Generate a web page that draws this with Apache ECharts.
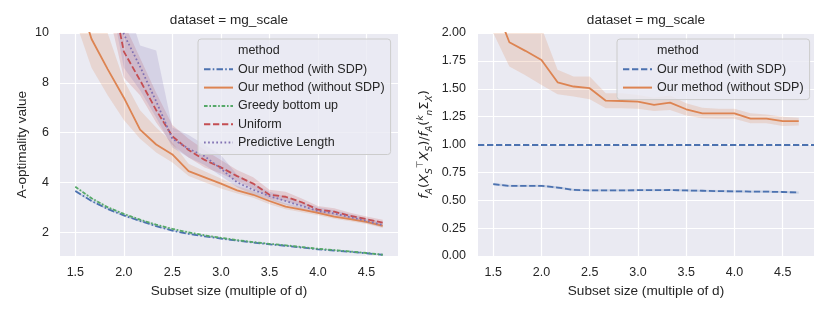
<!DOCTYPE html>
<html><head><meta charset="utf-8">
<script src="https://cdn.jsdelivr.net/npm/echarts@6/dist/echarts.min.js"></script>
<style>html,body{margin:0;padding:0;background:#fff}#c{width:831px;height:313px}</style>
</head><body><div id="c"></div>
<script>
// ---------- data ----------
const xVals = [1.5, 1.667, 1.833, 2.0, 2.167, 2.333, 2.5, 2.667, 2.833, 3.0, 3.167, 3.333, 3.5, 3.667, 3.833, 4.0, 4.167, 4.333, 4.5, 4.667];
const xTicks = [1.5, 2.0, 2.5, 3.0, 3.5, 4.0, 4.5];
const yTicksLeft = [2, 4, 6, 8, 10];
const methods = ['Our method (with SDP)', 'Our method (without SDP)', 'Greedy bottom up', 'Uniform', 'Predictive Length'];

// left panel: A-optimality value
const withSdpL   = [3.65, 3.25, 2.93, 2.67, 2.45, 2.24, 2.06, 1.93, 1.83, 1.74, 1.66, 1.58, 1.51, 1.45, 1.38, 1.31, 1.26, 1.21, 1.15, 1.09];
const withSdpLlo = [3.60, 3.21, 2.89, 2.63, 2.41, 2.21, 2.03, 1.90, 1.80, 1.71, 1.63, 1.56, 1.49, 1.43, 1.36, 1.29, 1.24, 1.19, 1.13, 1.07];
const withSdpLhi = [3.70, 3.29, 2.97, 2.71, 2.49, 2.27, 2.09, 1.96, 1.86, 1.77, 1.69, 1.60, 1.53, 1.47, 1.40, 1.33, 1.28, 1.23, 1.17, 1.11];
const noSdpL     = [11.8, 9.76, 8.55, 7.40, 6.12, 5.52, 5.12, 4.45, 4.20, 3.95, 3.68, 3.50, 3.25, 3.02, 2.90, 2.77, 2.62, 2.52, 2.41, 2.25];
const noSdpLlo   = [10.5, 8.60, 7.50, 6.50, 5.75, 5.20, 4.80, 4.25, 4.00, 3.75, 3.55, 3.38, 3.12, 2.92, 2.80, 2.68, 2.54, 2.44, 2.33, 2.17];
const noSdpLhi   = [13.5, 11.5, 10.0, 8.10, 6.90, 6.20, 5.60, 4.75, 4.45, 4.15, 3.85, 3.65, 3.38, 3.15, 3.00, 2.88, 2.72, 2.60, 2.50, 2.35];
const greedy     = [3.82, 3.36, 3.00, 2.73, 2.50, 2.30, 2.13, 1.99, 1.87, 1.77, 1.68, 1.60, 1.53, 1.47, 1.40, 1.33, 1.28, 1.22, 1.16, 1.09];
const greedyLo   = [3.78, 3.32, 2.96, 2.69, 2.46, 2.27, 2.10, 1.96, 1.84, 1.74, 1.66, 1.58, 1.51, 1.45, 1.38, 1.31, 1.26, 1.20, 1.14, 1.07];
const greedyHi   = [3.86, 3.40, 3.04, 2.77, 2.54, 2.33, 2.16, 2.02, 1.90, 1.80, 1.70, 1.62, 1.55, 1.49, 1.42, 1.35, 1.30, 1.24, 1.18, 1.11];
const uniform    = [17.0, 15.0, 12.5, 9.25, 8.10, 6.90, 5.85, 5.30, 4.90, 4.60, 4.25, 3.95, 3.50, 3.42, 3.20, 2.90, 2.82, 2.65, 2.52, 2.38];
const uniformLo  = [15.0, 13.0, 11.0, 8.20, 7.50, 6.40, 5.50, 5.00, 4.60, 4.35, 4.05, 3.75, 3.35, 3.25, 3.05, 2.78, 2.70, 2.55, 2.42, 2.28];
const uniformHi  = [19.0, 17.0, 14.0, 10.4, 9.00, 7.60, 6.30, 5.75, 5.30, 4.90, 4.50, 4.20, 3.70, 3.62, 3.35, 3.05, 2.96, 2.78, 2.63, 2.50];
const predLen    = [18.0, 16.0, 13.5, 9.95, 8.65, 7.25, 5.75, 5.35, 5.05, 4.55, 4.00, 3.70, 3.45, 3.25, 3.05, 2.85, 2.75, 2.60, 2.45, 2.28];
const predLenLo  = [16.0, 14.0, 12.0, 8.60, 7.70, 6.60, 5.40, 5.00, 4.70, 4.25, 3.80, 3.50, 3.30, 3.10, 2.92, 2.74, 2.63, 2.50, 2.36, 2.20];
const predLenHi  = [20.0, 18.0, 15.5, 11.5, 9.50, 9.30, 6.20, 5.90, 5.50, 5.10, 4.30, 3.95, 3.62, 3.42, 3.20, 3.00, 2.88, 2.72, 2.56, 2.40];

// right panel: ratio
const withSdpR   = [0.644, 0.629, 0.629, 0.629, 0.614, 0.593, 0.588, 0.588, 0.589, 0.590, 0.590, 0.592, 0.588, 0.585, 0.582, 0.580, 0.578, 0.577, 0.574, 0.569];
const withSdpRlo = [0.632, 0.618, 0.618, 0.618, 0.603, 0.582, 0.578, 0.578, 0.579, 0.580, 0.580, 0.582, 0.578, 0.575, 0.572, 0.570, 0.568, 0.567, 0.564, 0.559];
const withSdpRhi = [0.656, 0.640, 0.640, 0.640, 0.625, 0.604, 0.598, 0.598, 0.599, 0.600, 0.600, 0.602, 0.598, 0.595, 0.592, 0.590, 0.588, 0.587, 0.584, 0.579];
const noSdpR     = [2.29, 1.917, 1.84, 1.758, 1.558, 1.52, 1.505, 1.393, 1.39, 1.384, 1.355, 1.376, 1.316, 1.28, 1.28, 1.28, 1.232, 1.232, 1.209, 1.21];
const noSdpRlo   = [2.00, 1.70, 1.62, 1.534, 1.45, 1.43, 1.405, 1.325, 1.325, 1.32, 1.30, 1.31, 1.26, 1.235, 1.23, 1.23, 1.19, 1.19, 1.165, 1.17];
const noSdpRhi   = [2.80, 2.40, 2.30, 2.05, 1.67, 1.61, 1.61, 1.46, 1.46, 1.444, 1.42, 1.44, 1.37, 1.33, 1.32, 1.32, 1.28, 1.27, 1.25, 1.24];
const refLine = 1.0;

// ---------- styles ----------
const FONT = '"Liberation Sans", Arial, sans-serif';
const TXT = '#262626';
const COL = {blue:'#4C72B0', orange:'#DD8452', green:'#55A868', red:'#C44E52', purple:'#8172B3'};
const LW = 1.8;
const DASH = [6.3, 2.7];
const DASHDOT = [6.5, 2.2, 1.6, 2.2];
const DASHDOT2 = [3.6, 1.8, 1.6, 1.8];
const DOT = [1.7, 2.4];

const pairs = (xs, ys) => xs.map((x, i) => [x, ys[i]]);
function band(xi, lo, hi, color) {
  return {
    type:'custom', xAxisIndex:xi, yAxisIndex:xi, clip:true, silent:true, z:1,
    data:pairs(xVals, lo),
    renderItem:function (params, api) {
      if (params.dataIndex !== 0) return null;
      const pts = [];
      for (let i = 0; i < xVals.length; i++) pts.push(api.coord([xVals[i], hi[i]]));
      for (let i = xVals.length - 1; i >= 0; i--) pts.push(api.coord([xVals[i], lo[i]]));
      return {type:'polygon', shape:{points:pts}, style:{fill:color, opacity:0.2}};
    }
  };
}
function line(xi, name, ys, color, type) {
  return {type:'line', name:name, xAxisIndex:xi, yAxisIndex:xi, data:pairs(xVals, ys), symbol:'none',
          lineStyle:{color:color, width:LW, type:type}, itemStyle:{color:color}, z:3};
}

const xAxisBase = (gi) => ({
  type:'value', gridIndex:gi, min:1.342, max:4.825,
  name:'Subset size (multiple of d)', nameLocation:'middle', nameGap:27,
  nameTextStyle:{fontFamily:FONT, fontSize:13.6, color:TXT},
  axisLine:{show:false}, axisTick:{show:false, customValues:xTicks},
  axisLabel:{customValues:xTicks, fontFamily:FONT, fontSize:12.5, color:TXT, margin:10,
             formatter:(v) => v.toFixed(1)},
  splitLine:{show:true, lineStyle:{color:'#ffffff', width:1.2}}
});

const legendBase = {
  orient:'vertical', padding:[5,6,5,5], itemWidth:29, itemHeight:14, itemGap:4.3,
  backgroundColor:'rgba(234,234,242,0.8)', borderColor:'#cccccc', borderWidth:1, borderRadius:3,
  textStyle:{fontFamily:FONT, fontSize:12.5, color:TXT, lineHeight:14},
  itemStyle:{opacity:0}, selectedMode:false
};

const series = [
  {type:'line', name:'method', xAxisIndex:0, yAxisIndex:0, data:[], symbol:'none', lineStyle:{opacity:0}},
  band(0, noSdpLlo, noSdpLhi, COL.orange),
  band(0, uniformLo, uniformHi, COL.red),
  band(0, predLenLo, predLenHi, COL.purple),
  band(0, withSdpLlo, withSdpLhi, COL.blue),
  band(0, greedyLo, greedyHi, COL.green),
  line(0, methods[0], withSdpL, COL.blue, DASHDOT),
  line(0, methods[1], noSdpL, COL.orange, 'solid'),
  line(0, methods[2], greedy, COL.green, DASHDOT2),
  line(0, methods[3], uniform, COL.red, DASH),
  line(0, methods[4], predLen, COL.purple, DOT),
  band(1, noSdpRlo, noSdpRhi, COL.orange),
  band(1, withSdpRlo, withSdpRhi, COL.blue),
  Object.assign(line(1, 'R:' + methods[0], withSdpR, COL.blue, DASH), {
    markLine:{silent:true, symbol:'none', label:{show:false}, animation:false,
              lineStyle:{color:COL.blue, width:LW, type:DASH}, data:[{yAxis:refLine}]}
  }),
  line(1, 'R:' + methods[1], noSdpR, COL.orange, 'solid')
];

const chart = echarts.init(document.getElementById('c'), null, {renderer:'canvas'});
chart.setOption({
  animation:false,
  backgroundColor:'#ffffff',
  title:[
    {text:'dataset = mg_scale', left:229, top:13, textAlign:'center', padding:0,
     textStyle:{fontFamily:FONT, fontSize:13.6, fontWeight:'normal', color:TXT}},
    {text:'dataset = mg_scale', left:646, top:13, textAlign:'center', padding:0,
     textStyle:{fontFamily:FONT, fontSize:13.6, fontWeight:'normal', color:TXT}}
  ],
  grid:[
    {left:60, top:33, width:338, height:223, show:true, backgroundColor:'#EAEAF2', borderWidth:0},
    {left:478, top:33, width:336, height:223, show:true, backgroundColor:'#EAEAF2', borderWidth:0}
  ],
  xAxis:[xAxisBase(0), xAxisBase(1)],
  yAxis:[
    {type:'value', gridIndex:0, min:1.04, max:10,
     name:'A-optimality value', nameLocation:'middle', nameGap:31,
     nameTextStyle:{fontFamily:FONT, fontSize:13.6, color:TXT},
     axisLine:{show:false}, axisTick:{show:false, customValues:yTicksLeft},
     axisLabel:{customValues:yTicksLeft, fontFamily:FONT, fontSize:12.5, color:TXT, margin:11,
                formatter:(v) => String(Math.round(v))},
     splitLine:{show:true, lineStyle:{color:'#ffffff', width:1.2}}},
    {type:'value', gridIndex:1, min:0, max:2, interval:0.25,
     name:'{i|f}{s|A}{t|(}{i|X}{s|S}{p|⊤}{i|X}{s|S}{t|)/}{i|f}{s|A}{t|(}{p|k}{s|n}{t|Σ}{s|X}{t|)}',
     nameLocation:'middle', nameGap:44,
     nameTextStyle:{fontFamily:'DejaVu Sans', fontSize:13, color:TXT,
       rich:{
         i:{fontFamily:'DejaVu Sans', fontStyle:'italic', fontSize:13, lineHeight:18, verticalAlign:'middle', color:TXT},
         t:{fontFamily:'DejaVu Sans', fontSize:13, lineHeight:18, verticalAlign:'middle', color:TXT},
         s:{fontFamily:'DejaVu Sans', fontStyle:'italic', fontSize:9, lineHeight:11, verticalAlign:'bottom', color:TXT},
         p:{fontFamily:'DejaVu Sans', fontStyle:'italic', fontSize:9, lineHeight:11, verticalAlign:'top', color:TXT}
       }},
     axisLine:{show:false}, axisTick:{show:false},
     axisLabel:{fontFamily:FONT, fontSize:12.5, color:TXT, margin:12, formatter:(v) => v.toFixed(2)},
     splitLine:{show:true, lineStyle:{color:'#ffffff', width:1.2}}}
  ],
  legend:[
    Object.assign({}, legendBase, {left:198, top:39, data:['method'].concat(methods)}),
    Object.assign({}, legendBase, {left:617, top:39, data:['method', 'R:' + methods[0], 'R:' + methods[1]],
      formatter:(n) => n.replace(/^R:/, '')})
  ],
  series:series
});
</script></body></html>
